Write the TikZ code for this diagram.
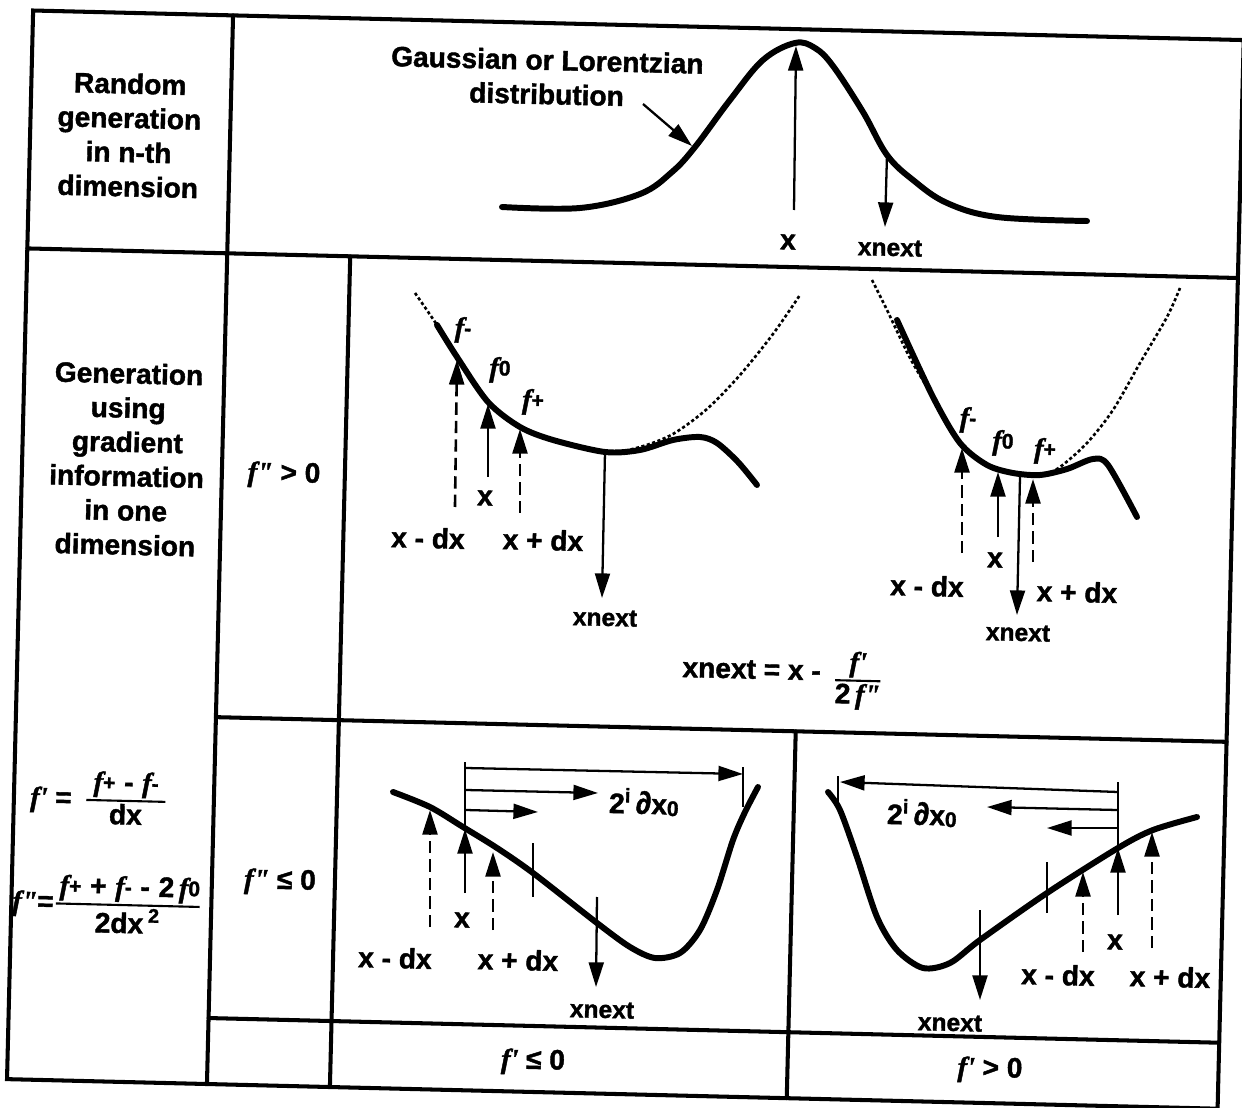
\documentclass[tikz,border=0pt]{standalone}
\usepackage{fontspec}
\setmainfont{Liberation Sans}[BoldFeatures={FakeBold=1.5}]
\newfontfamily\fserif{Liberation Serif}[BoldItalicFeatures={FakeBold=1.5}]
\usetikzlibrary{arrows.meta}
\newcommand{\fv}{{\fserif\bfseries\itshape f}}
\newcommand{\fp}{{\fserif\bfseries\itshape f\textquotesingle}}
\newcommand{\fpp}{{\fserif\bfseries\itshape f\textquotedbl}}
\newcommand{\fsub}[1]{\fv\raisebox{0.1ex}{\fontsize{12}{12}\selectfont #1}}
\newcommand{\dxo}{2\textsuperscript{i}\,{\fontsize{18}{18}\selectfont ∂}x\raisebox{-0.1ex}{\fontsize{12}{12}\selectfont 0}}
\tikzset{
    grid/.style={line width=2.3pt, line cap=round},
    curve/.style={line width=3.4pt, line cap=round, line join=round},
    guide/.style={line width=1.5pt, dash pattern=on 1.8pt off 1.4pt},
    arr/.style={line width=1.3pt, -{Triangle[length=14pt, width=8.5pt]}},
    darr/.style={arr, line width=1.5pt, dash pattern=on 7pt off 3.5pt},
    tick/.style={line width=1.3pt},
    lbl/.style={font=\bfseries\fontsize{16}{19.5}\selectfont, inner sep=0pt, align=center, rotate=-1.4},
    nxt/.style={lbl, font=\bfseries\fontsize{14}{16}\selectfont}
}

\begin{document}
\begin{tikzpicture}[x=0.02cm, y=-0.02cm]
\useasboundingbox (0,0) rectangle (1242,1108);

\begin{scope}[rotate around={-1.4:(621,554)}]
  \draw[grid] (20,25) rectangle (1231,1094);
  \draw[grid] (220,25) -- (220,1094);
  \draw[grid] (20,263) -- (1231,263);
  \draw[grid] (343,263) -- (343,1094);
  \draw[grid] (220,727) -- (1231,727);
  \draw[grid] (220,1028) -- (1231,1028);
  \draw[grid] (800,727) -- (800,1094);
\end{scope}

\node[lbl] (rand) at (129,135) {Random\\generation\\in n-th\\dimension};
\node[lbl] (grad) at (127,459) {Generation\\using\\gradient\\information\\in one\\dimension};
\node[lbl, anchor=west] (fone) at (30,796) {\fp\ = \,${\mbox{\hspace{4pt}\fsub{+}\hspace{5pt}-\hspace{5pt}\fsub{-}\hspace{4pt}}\above 1.2pt \mbox{dx}}$};
\node[lbl, anchor=west] (ftwo) at (12,902) {\fpp=${\mbox{\hspace{2pt}\fsub{+}\hspace{5pt}+\hspace{5pt}\fsub{-}\hspace{5pt}-\hspace{5pt}2\,\fsub{0}}\above 1.2pt \mbox{2dx\,\textsuperscript{2}}}$};
\node[lbl] (cpos) at (284,475) {\fpp\ > 0};
\node[lbl] (cneg) at (280,882) {\fpp\ ≤ 0};
\node[lbl] (sneg) at (533,1062) {\fp\ ≤ 0};
\node[lbl] (spos) at (990,1070) {\fp\ > 0};

% random generation
\draw[curve] plot[smooth, tension=0.6] coordinates {(502,207) (580,208) (640,194) (672,172) (695,147) (730,100) (763,60) (795,43) (815,48) (833,66) (863,112) (887,155) (913,180) (947,203) (997,217) (1087,221)};
\node[lbl] (gauss) at (547,77) {Gaussian or Lorentzian\\distribution};
\coordinate (gp0) at (643,104);
\coordinate (gp1) at (692,146);
\draw[arr] (gp0) -- (gp1);
\coordinate (gx0) at (794,210);
\coordinate (gx1) at (796,46);
\draw[arr] (gx0) -- (gx1);
\node[lbl] (gxl) at (788,242) {x};
\coordinate (gn0) at (887,155);
\coordinate (gn1) at (885,227);
\draw[arr] (gn0) -- (gn1);
\node[nxt] (gnl) at (890,248) {xnext};

% f'' > 0, far from minimum
\draw[guide] plot[smooth] coordinates {(415,293) (437,325) (457,357) (488,402) (520,427) (553,440) (607,452) (640,447) (673,434) (707,409) (740,375) (773,334) (800,295)};
\draw[curve] plot[smooth] coordinates {(437,325) (457,357) (488,402) (520,427) (553,440) (605,452) (640,450) (673,440) (700,437) (717,443) (738,462) (757,485)};
\coordinate (lm0) at (455,507);
\coordinate (lm1) at (457,360);
\coordinate (lx0) at (488,477);
\coordinate (lx1) at (488,404);
\coordinate (lp0) at (520,513);
\coordinate (lp1) at (520,429);
\coordinate (ln0) at (605,452);
\coordinate (ln1) at (602,598);
\draw[darr] (lm0) -- (lm1);
\draw[arr] (lx0) -- (lx1);
\draw[darr] (lp0) -- (lp1);
\draw[arr] (ln0) -- (ln1);
\node[lbl] (lml) at (428,538) {x - dx};
\node[lbl] (lxl) at (485,498) {x};
\node[lbl] (lpl) at (543,540) {x + dx};
\node[nxt] (lnl) at (605,618) {xnext};
\node[lbl] (lfm) at (463,330) {\fsub{-}};
\node[lbl] (lfo) at (500,370) {\fsub{0}};
\node[lbl] (lfp) at (533,402) {\fsub{+}};

% f'' > 0, near minimum
\draw[guide] plot[smooth] coordinates {(872,280) (887,310) (910,358) (933,397) (960,443) (987,465) (1013,473) (1040,476) (1060,467) (1087,443) (1113,410) (1140,363) (1167,317) (1180,288)};
\draw[curve] plot[smooth] coordinates {(897,320) (933,397) (960,443) (987,465) (1013,473) (1040,475) (1067,469) (1093,459) (1108,465) (1137,517)};
\coordinate (rm0) at (962,553);
\coordinate (rm1) at (962,448);
\coordinate (rx0) at (998,537);
\coordinate (rx1) at (998,472);
\coordinate (rn0) at (1020,477);
\coordinate (rn1) at (1017,615);
\coordinate (rp0) at (1033,562);
\coordinate (rp1) at (1033,479);
\draw[darr] (rm0) -- (rm1);
\draw[arr] (rx0) -- (rx1);
\draw[arr] (rn0) -- (rn1);
\draw[darr] (rp0) -- (rp1);
\node[lbl] (rml) at (927,586) {x - dx};
\node[lbl] (rxl) at (995,560) {x};
\node[nxt] (rnl) at (1018,633) {xnext};
\node[lbl] (rpl) at (1077,592) {x + dx};
\node[lbl] (rfm) at (968,420) {\fsub{-}};
\node[lbl] (rfo) at (1003,443) {\fsub{0}};
\node[lbl] (rfp) at (1045,451) {\fsub{+}};
\node[lbl, anchor=base west] (fxn) at (682,677) {xnext = x - \,\raisebox{-4pt}{${\mbox{\fp}\above 1.2pt \mbox{2\,\fpp}}$}};

% f'' <= 0, f' <= 0
\draw[curve] plot[smooth] coordinates {(393,792) (430,807) (463,827) (497,848) (533,873) (597,923) (630,947) (655,958) (680,953) (700,930) (717,890) (733,840) (745,812) (758,787)};
\coordinate (ua0) at (430,927);
\coordinate (ua1) at (430,810);
\coordinate (ut0) at (465,762);
\coordinate (ut1) at (465,829);
\coordinate (ux0) at (465,893);
\coordinate (ub0) at (493,930);
\coordinate (ub1) at (493,852);
\coordinate (uh1) at (743,774);
\coordinate (uh2) at (598,793);
\coordinate (uh3) at (538,812);
\coordinate (uk0) at (743,767);
\coordinate (uk1) at (743,807);
\coordinate (uc0) at (533,843);
\coordinate (uc1) at (533,897);
\coordinate (un0) at (597,897);
\coordinate (un1) at (596,987);
\draw[darr] (ua0) -- (ua1);
\draw[tick] (ut0) -- (ut1);
\draw[arr] (ux0) -- (ut1);
\draw[darr] (ub0) -- (ub1);
\draw[arr] (466,768) -- (uh1);
\draw[arr] (466,790) -- (uh2);
\draw[arr] (466,810) -- (uh3);
\draw[tick] (uk0) -- (uk1);
\draw[tick] (uc0) -- (uc1);
\draw[arr] (un0) -- (un1);
\node[lbl] (ual) at (395,958) {x - dx};
\node[lbl] (uxl) at (462,920) {x};
\node[lbl] (ubl) at (518,960) {x + dx};
\node[nxt] (unl) at (602,1010) {xnext};
\node[lbl] (udl) at (644,802) {\dxo};

% f'' <= 0, f' > 0
\draw[curve] plot[smooth] coordinates {(828,792) (840,810) (857,857) (877,917) (897,950) (923,968) (950,963) (980,940) (1047,893) (1118,848) (1153,830) (1197,817)};
\coordinate (va0) at (1083,952);
\coordinate (va1) at (1083,872);
\coordinate (vt0) at (1118,782);
\coordinate (vt1) at (1118,848);
\coordinate (vx0) at (1118,915);
\coordinate (vb0) at (1152,948);
\coordinate (vb1) at (1152,832);
\coordinate (vh1) at (840,782);
\coordinate (vh2) at (987,807);
\coordinate (vh3) at (1047,828);
\coordinate (vk0) at (838,776);
\coordinate (vk1) at (838,808);
\coordinate (vc0) at (1047,862);
\coordinate (vc1) at (1047,913);
\coordinate (vn0) at (980,910);
\coordinate (vn1) at (980,1000);
\draw[darr] (va0) -- (va1);
\draw[tick] (vt0) -- (vt1);
\draw[arr] (vx0) -- (vt1);
\draw[darr] (vb0) -- (vb1);
\draw[arr] (1118,792) -- (vh1);
\draw[arr] (1117,810) -- (vh2);
\draw[arr] (1117,828) -- (vh3);
\draw[tick] (vk0) -- (vk1);
\draw[tick] (vc0) -- (vc1);
\draw[arr] (vn0) -- (vn1);
\node[lbl] (val) at (1058,975) {x - dx};
\node[lbl] (vxl) at (1115,942) {x};
\node[lbl] (vbl) at (1170,977) {x + dx};
\node[nxt] (vnl) at (950,1023) {xnext};
\node[lbl] (vdl) at (922,813) {\dxo};
\end{tikzpicture}
\end{document}
